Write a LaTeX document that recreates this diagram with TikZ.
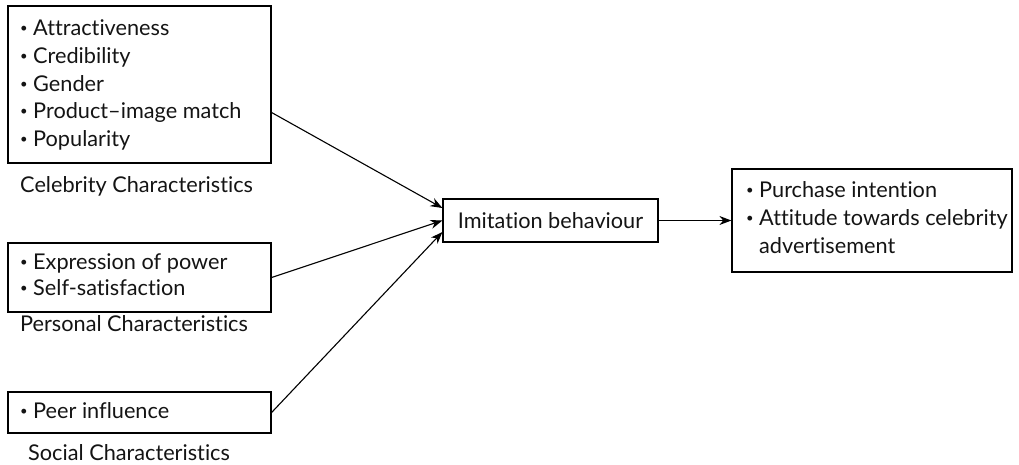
\documentclass[tikz,border=0pt]{standalone}
\usepackage{fontspec}
\setmainfont{Lato}[Ligatures={NoCommon}]
\usetikzlibrary{arrows.meta}
\newcommand{\bl}[1]{\makebox[13pt][l]{\fontsize{13}{13}\selectfont\raisebox{2.8pt}{\textbullet}}#1}
\begin{document}
\begin{tikzpicture}[x=1pt,y=-1pt,
  box/.style={draw, line width=1.2pt, inner sep=0pt, rectangle},
  txt/.style={anchor=base west, inner sep=0pt, font=\fontsize{21.7}{26}\selectfont, text=black!92},
  arr/.style={line width=1.1pt, -{Stealth[length=12pt,width=9pt]}}]
\useasboundingbox (0,0) rectangle (1019,464);
% boxes
\node[box, minimum width=263pt, minimum height=157pt] (c1) at (139.5,84.5) {};
\node[box, minimum width=263pt, minimum height=69pt] (c2) at (139.5,277.5) {};
\node[box, minimum width=263pt, minimum height=41pt] (c3) at (139.5,412.5) {};
\node[box, minimum width=215pt, minimum height=43pt] (im) at (550.5,220.5) {};
\node[box, minimum width=280pt, minimum height=103pt] (out) at (872,220.5) {};
% celebrity
\node[txt] (t11) at (20,35) {\bl{Attractiveness}};
\node[txt] (t12) at (20,63) {\bl{Credibility}};
\node[txt] (t13) at (20,91) {\bl{Gender}};
\node[txt] (t14) at (20,118) {\bl{Product–image match}};
\node[txt] (t15) at (20,146) {\bl{Popularity}};
\node[txt] (l1) at (20,192) {Celebrity Characteristics};
% personal
\node[txt] (t21) at (20,269) {\bl{Expression of power}};
\node[txt] (t22) at (20,295) {\bl{Self-satisfaction}};
\node[txt] (l2) at (20,331) {Personal Characteristics};
% social
\node[txt] (t31) at (20,418) {\bl{Peer influence}};
\node[txt] (l3) at (28,460) {Social Characteristics};
% middle
\node[txt, anchor=base] (ti) at (550.5,228) {Imitation behaviour};
% outcome
\node[txt] (o1) at (746,197) {\bl{Purchase intention}};
\node[txt] (o2) at (746,225) {\bl{Attitude towards celebrity}};
\node[txt] (o3) at (759,253) {advertisement};
% arrows
\draw[arr] ([yshift=-28pt]c1.east) -- ([yshift=12.5pt]im.west);
\draw[arr] (c2.east) -- (im.west);
\draw[arr] (c3.east) -- ([yshift=-11.5pt]im.west);
\draw[arr] (im.east) -- (out.west);
\end{tikzpicture}
\end{document}
